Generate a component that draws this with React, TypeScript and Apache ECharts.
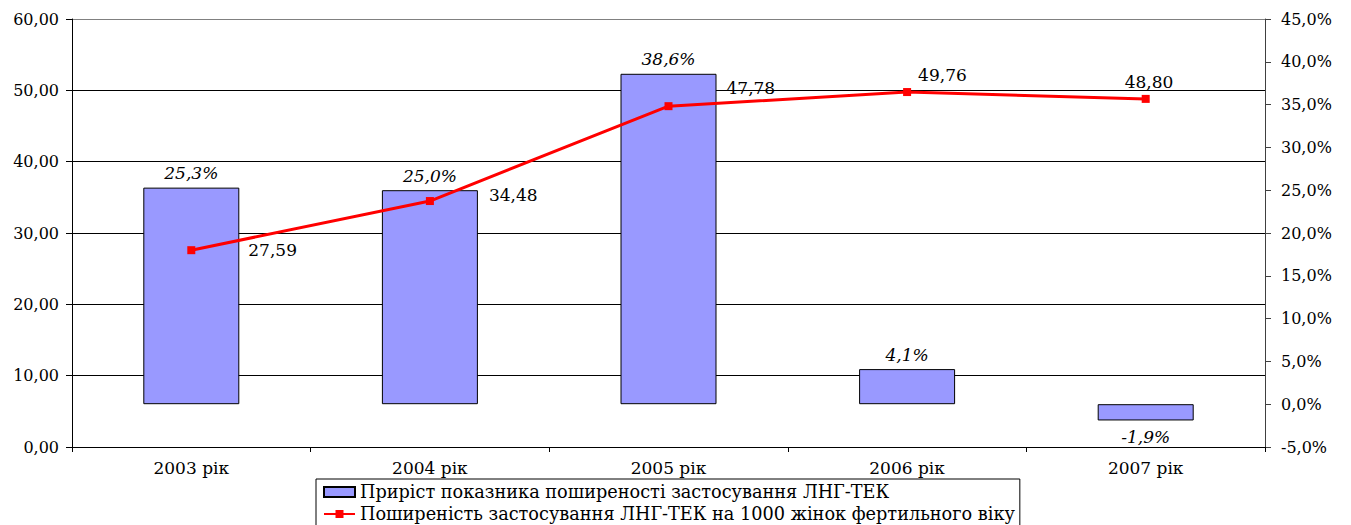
import React, { useEffect, useRef } from "react";
import * as echarts from "echarts";

const categories = ["2003 рік", "2004 рік", "2005 рік", "2006 рік", "2007 рік"];
const growthPct = [25.3, 25.0, 38.6, 4.1, -1.9];
const prevalence = [27.59, 34.48, 47.78, 49.76, 48.8];
const lineLabelOffsets: [number, number][] = [
  [48, 0],
  [50, -6],
  [49, -18],
  [2, -17],
  [-30, -17],
];
const seriesNames = [
  "Приріст показника поширеності застосування ЛНГ-ТЕК",
  "Поширеність застосування ЛНГ-ТЕК на 1000 жінок фертильного віку",
];

const FONT = "DejaVu Serif";

export default function App() {
  const ref = useRef<HTMLDivElement>(null);
  useEffect(() => {
    document.body.style.margin = "0";
    const chart = echarts.init(ref.current!, null, { renderer: "svg" });
    chart.setOption({
      animation: false,
      backgroundColor: "#ffffff",
      textStyle: { fontFamily: FONT },
      grid: { left: 72, right: 86, top: 19, bottom: 78 },
      legend: {
        orient: "vertical",
        left: 316,
        top: 479,
        height: 200,
        borderColor: "#000",
        borderWidth: 1,
        borderRadius: 0,
        padding: [4, 5, 6, 7],
        itemGap: 4,
        itemWidth: 31,
        itemHeight: 10,
        textStyle: { fontFamily: FONT, fontSize: 17.7, color: "#000" },
        data: [
          { name: seriesNames[0], icon: "rect" },
          { name: seriesNames[1] },
        ],
      },
      xAxis: {
        type: "category",
        data: categories,
        axisLine: { lineStyle: { color: "#000", width: 1 } },
        axisTick: { show: true, inside: false, length: 5, lineStyle: { color: "#000" } },
        axisLabel: { fontFamily: FONT, fontSize: 17, color: "#000", margin: 12 },
        z: 5,
      },
      yAxis: [
        {
          type: "value",
          min: 0,
          max: 60,
          interval: 10,
          position: "left",
          axisLine: { show: true, lineStyle: { color: "#000" } },
          axisTick: { show: true, length: 6, lineStyle: { color: "#000" } },
          axisLabel: {
            fontFamily: FONT,
            fontSize: 16,
            color: "#000",
            margin: 13,
            formatter: (v: number) => v.toFixed(2).replace(".", ","),
          },
          splitLine: {
            show: true,
            lineStyle: {
              color: ["#000", "#000", "#000", "#000", "#000", "#000", "#808080"],
              width: 1,
            },
          },
        },
        {
          type: "value",
          min: -5,
          max: 45,
          interval: 5,
          position: "right",
          axisLine: { show: true, lineStyle: { color: "#404040" } },
          axisTick: { show: true, length: 6, lineStyle: { color: "#404040" } },
          axisLabel: {
            fontFamily: FONT,
            fontSize: 16,
            color: "#000",
            margin: 16,
            formatter: (v: number) => v.toFixed(1).replace(".", ",") + "%",
          },
          splitLine: { show: false },
        },
      ],
      series: [
        {
          name: seriesNames[0],
          type: "bar",
          yAxisIndex: 1,
          barWidth: 96,
          itemStyle: { color: "#9999FF", borderColor: "#000", borderWidth: 1 },
          data: growthPct.map((v) => ({
            value: v,
            label: {
              show: true,
              position: v >= 0 ? "top" : "bottom",
              distance: v >= 0 ? 6 : 8,
              fontFamily: FONT,
              fontStyle: "italic",
              fontSize: 17,
              color: "#000",
              formatter: (p: any) => p.value.toFixed(1).replace(".", ",") + "%",
            },
          })),
          z: 2,
        },
        {
          name: seriesNames[1],
          type: "line",
          yAxisIndex: 0,
          symbol: "rect",
          symbolSize: 8,
          lineStyle: { color: "#FF0000", width: 3 },
          itemStyle: { color: "#FF0000" },
          data: prevalence.map((v, i) => ({
            value: v,
            label: {
              show: true,
              position: "right",
              offset: lineLabelOffsets[i],
              fontFamily: FONT,
              fontSize: 17,
              color: "#000",
              formatter: (p: any) => p.value.toFixed(2).replace(".", ","),
            },
          })),
          z: 3,
        },
      ],
    });
    return () => chart.dispose();
  }, []);
  return <div ref={ref} style={{ width: 1351, height: 525 }} />;
}
